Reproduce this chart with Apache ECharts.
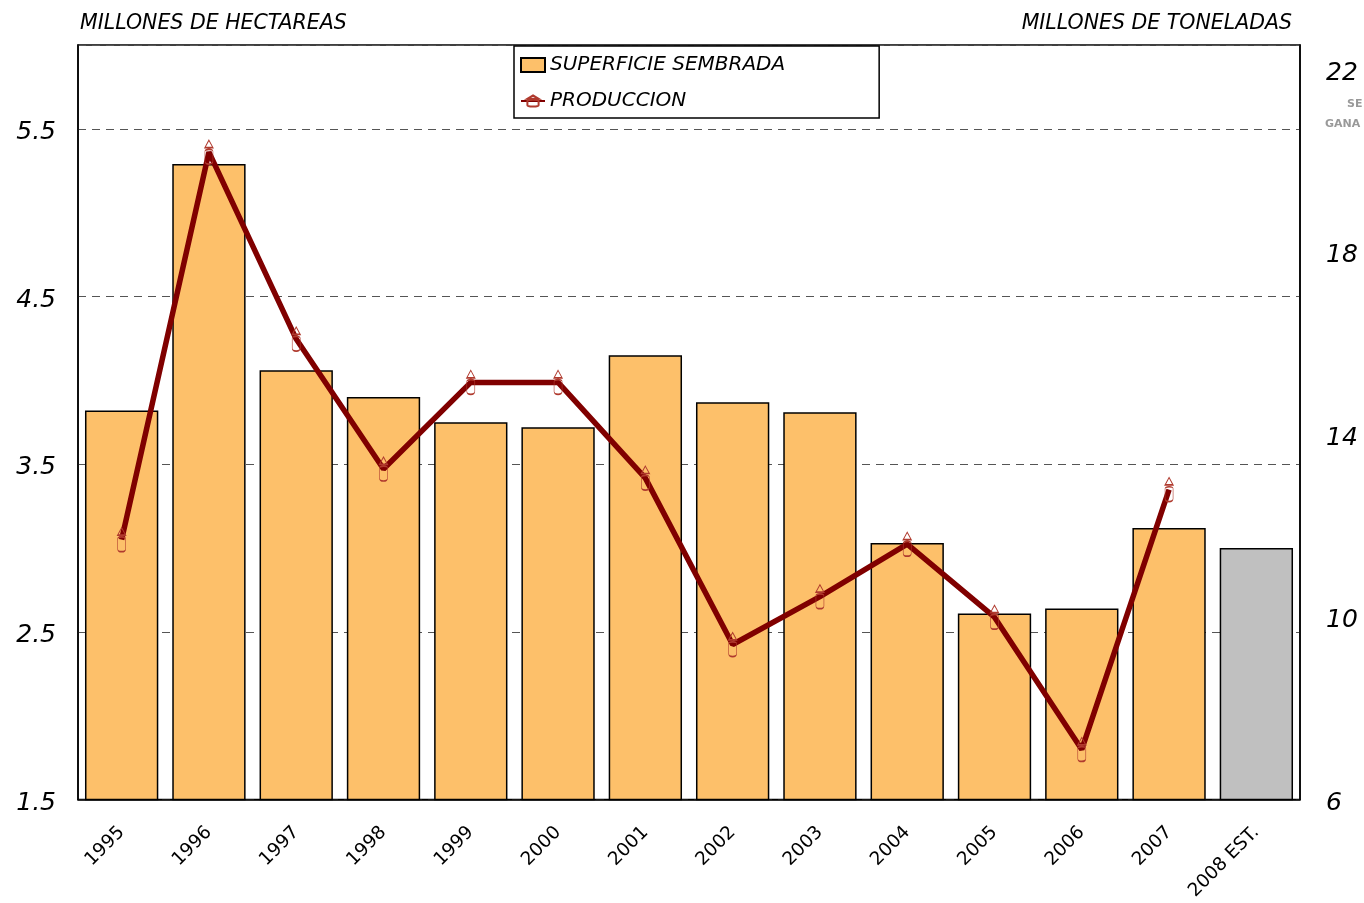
<!DOCTYPE html>
<html>
<head>
<meta charset="utf-8">
<script src="https://cdn.jsdelivr.net/npm/echarts@6/dist/echarts.min.js"></script>
<style>
html,body{margin:0;padding:0;background:#fff;}
#chart{width:1364px;height:903px;}
</style>
</head>
<body>
<div id="chart"></div>
<script>
var categories = ['1995','1996','1997','1998','1999','2000','2001','2002','2003','2004','2005','2006','2007','2008 EST.'];
var superficie = [3.82, 5.29, 4.06, 3.90, 3.75, 3.72, 4.15, 3.87, 3.81, 3.03, 2.61, 2.64, 3.12, 3.00];
var produccion = [11.7, 20.2, 16.1, 13.25, 15.15, 15.15, 13.05, 9.4, 10.45, 11.6, 10.0, 7.1, 12.8, null];
var estimatedIndex = 13;
var leftTitle = 'MILLONES DE HECTAREAS';
var rightTitle = 'MILLONES DE TONELADAS';
var seriesNames = ['SUPERFICIE SEMBRADA', 'PRODUCCION'];

var FONT = '"DejaVu Sans", Verdana, sans-serif';
var markerPath = 'path://M5,0 L8,8 L2,8 Z M2,12 L2,23 Q2,26 5,26 Q8,26 8,23 L8,12 Q8,10 5,10 Q2,10 2,12 Z';

var barData = superficie.map(function (v, i) {
  if (i === estimatedIndex) {
    return { value: v, itemStyle: { color: '#C0C0C0' } };
  }
  return v;
});

var labelRich = {
  v: { fontFamily: FONT, fontStyle: 'italic', fontSize: 25, color: '#000', padding: [7, 0, 0, 0] }
};

var chart = echarts.init(document.getElementById('chart'), null, { renderer: 'canvas' });
chart.setOption({
  animation: false,
  backgroundColor: '#fff',
  grid: {
    left: 78, right: 64, top: 45, bottom: 103,
    show: true, borderColor: '#000', borderWidth: 1.5, backgroundColor: 'transparent'
  },
  legend: {
    orient: 'vertical',
    left: 514, top: 46,
    backgroundColor: '#fff',
    borderColor: '#000', borderWidth: 1.5,
    padding: [9, 94, 7, 6],
    itemGap: 16,
    itemWidth: 24, itemHeight: 14,
    textStyle: { fontFamily: FONT, fontStyle: 'italic', fontSize: 20, color: '#000' },
    data: [{ name: seriesNames[0], icon: 'rect' }, { name: seriesNames[1] }]
  },
  graphic: [
    { type: 'text', left: 80, top: 14,
      style: { text: leftTitle, fontFamily: FONT, fontStyle: 'italic', fontSize: 20.5, fill: '#000' } },
    { type: 'text', right: 72, top: 14,
      style: { text: rightTitle, fontFamily: FONT, fontStyle: 'italic', fontSize: 20.5, fill: '#000' } },
    { type: 'text', left: 1347, top: 99,
      style: { text: 'SE', fontFamily: FONT, fontWeight: 'bold', fontSize: 11, fill: '#999' } },
    { type: 'text', left: 1325, top: 119,
      style: { text: 'GANA', fontFamily: FONT, fontWeight: 'bold', fontSize: 11, fill: '#999' } }
  ],
  xAxis: {
    type: 'category',
    data: categories,
    axisLine: { lineStyle: { color: '#000', width: 1.5 } },
    axisTick: { show: false },
    axisLabel: {
      rotate: 45, margin: 30, interval: 0,
      fontFamily: FONT, fontSize: 18.5, color: '#000'
    }
  },
  yAxis: [
    {
      type: 'value', min: 1.5, max: 6.0, interval: 1,
      axisLine: { show: true, lineStyle: { color: '#000', width: 1.5 } },
      axisTick: { show: false },
      axisLabel: {
        showMaxLabel: false, margin: 22,
        rich: labelRich,
        formatter: function (v) { return '{v|' + v.toFixed(1) + '}'; }
      },
      splitLine: { show: true, lineStyle: { color: '#555', type: [8, 6], width: 1.2 } }
    },
    {
      type: 'value', min: 6, max: 22.55, interval: 4,
      axisLine: { show: true, lineStyle: { color: '#000', width: 1.5 } },
      axisTick: { show: false },
      axisLabel: {
        showMaxLabel: false, margin: 26,
        rich: labelRich,
        formatter: function (v) { return '{v|' + v + '}'; }
      },
      splitLine: { show: false }
    }
  ],
  series: [
    {
      name: seriesNames[0],
      type: 'bar',
      yAxisIndex: 0,
      data: barData,
      barCategoryGap: '16%',
      itemStyle: { color: '#FDC06A', borderColor: '#000', borderWidth: 1.5 },
      z: 2
    },
    {
      name: seriesNames[1],
      type: 'line',
      yAxisIndex: 1,
      data: produccion,
      symbol: markerPath,
      symbolSize: [8, 24],
      showAllSymbol: true,
      lineStyle: { color: '#800000', width: 5.5 },
      itemStyle: { color: 'rgba(255,255,255,0)', borderColor: '#B03A2E', borderWidth: 1 },
      z: 3
    }
  ]
});
</script>
</body>
</html>
